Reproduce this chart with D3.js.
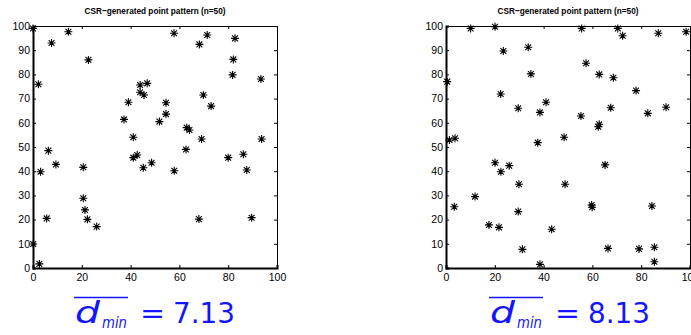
<!DOCTYPE html>
<html>
<head>
<meta charset="utf-8">
<script src="https://cdn.jsdelivr.net/npm/d3@7"></script>
<style>
  body { margin: 0; background: #fff; }
  svg { display: block; }
  .tick text { font-family: "Liberation Sans", Arial, sans-serif; font-size: 10.5px; fill: #000; }
</style>
</head>
<body>
<div id="chart"></div>
<script>
// point patterns (x, y in 0..100)
const leftX = [0, 7.6, 14.5, 22.7, 2.2, 39.1, 37.3, 41.1, 43.9, 43.9, 45.5, 46.8, 57.8, 71.4, 68.2, 82.8, 82.1, 81.8, 93.4, 69.8,
  73, 54.5, 54.5, 51.8, 63, 64.1, 69.1, 93.7, 62.7, 6.3, 3.1, 9.4, 20.6, 20.6, 21.3, 22.3, 26.1, 5.6, 0.1, 2.6,
  41.1, 42.7, 45.2, 48.6, 57.9, 80, 86.2, 87.6, 68, 89.6];
const leftY = [99, 93, 97.6, 86, 75.9, 68.5, 61.4, 54, 75.6, 72.6, 71.5, 76.3, 97, 96.3, 92.4, 94.9, 86.2, 79.8, 78.1, 71.5,
  66.9, 68.3, 63.6, 60.5, 58, 57, 53.3, 53.3, 49, 48.5, 39.8, 42.8, 41.6, 28.8, 24, 20.1, 17.1, 20.5, 9.9, 1.7,
  45.6, 46.7, 41.4, 43.5, 40.2, 45.6, 47, 40.5, 20.2, 20.8];

const rightX = [0.5, 1.4, 3.7, 10.1, 20.1, 23.5, 22.4, 29.6, 33.7, 34.8, 41, 38.5, 37.6, 48.4, 55.6, 70.4, 72.4, 87, 98.4, 57.4,
  62.8, 68.6, 77.9, 67.5, 55.3, 62.8, 62.4, 82.7, 90.2, 20.1, 22.5, 25.9, 29.9, 48.8, 3.4, 11.9, 29.6, 17.6, 21.7, 31.3,
  43.3, 38.5, 65.2, 59.7, 59.9, 84.4, 66.4, 79.1, 85.4, 85.4];
const rightY = [77, 52.9, 53.6, 99, 99.7, 89.7, 71.9, 66, 91.2, 80.2, 68.5, 64.3, 51.8, 54, 99, 99, 96, 97, 97.6, 84.6,
  80, 78.6, 73.3, 66.2, 62.8, 59.4, 58.4, 63.9, 66.4, 43.5, 39.8, 42.3, 34.6, 34.6, 25.3, 29.5, 23.3, 17.8, 16.8, 7.7,
  16, 1.5, 42.6, 26, 25.1, 25.6, 8.1, 7.9, 8.6, 2.6];

const xTicks = [0, 20, 40, 60, 80, 100];
const yTicks = [0, 10, 20, 30, 40, 50, 60, 70, 80, 90, 100];
const titles = ["CSR\u2212generated point pattern (n=50)", "CSR\u2212generated point pattern (n=50)"];
const dminValues = ["7.13", "8.13"];

const W = 691, H = 335;
const svg = d3.select("#chart").append("svg").attr("width", W).attr("height", H);

const panels = [
  { x0: 33, x1: 277, xs: leftX, ys: leftY, title: titles[0], dmin: dminValues[0], fx: 75 },
  { x0: 446, x1: 690, xs: rightX, ys: rightY, title: titles[1], dmin: dminValues[1], fx: 490 }
];
const yTop = 26, yBot = 268;

// MATLAB-ish '*' marker
const star = "M-4,0L4,0M0,-4L0,4M-2.9,-2.9L2.9,2.9M-2.9,2.9L2.9,-2.9";

panels.forEach(p => {
  const x = d3.scaleLinear().domain([0, 100]).range([p.x0, p.x1]);
  const y = d3.scaleLinear().domain([0, 100]).range([yBot, yTop]);
  const g = svg.append("g");

  // box ticks (inward)
  g.append("g").attr("transform", `translate(0,${yTop})`)
    .call(d3.axisTop(x).tickValues(xTicks).tickSize(-3).tickFormat(""))
    .call(a => a.select(".domain").attr("stroke-width", 1));
  g.append("g").attr("transform", `translate(${p.x1},0)`)
    .call(d3.axisRight(y).tickValues(yTicks).tickSize(-3).tickFormat(""))
    .call(a => a.select(".domain").attr("stroke-width", 1));
  g.append("g").attr("transform", `translate(0,${yBot})`)
    .call(d3.axisBottom(x).tickValues(xTicks).tickSize(-3).tickPadding(6))
    .call(a => a.select(".domain").attr("stroke-width", 2));
  g.append("g").attr("transform", `translate(${p.x0},0)`)
    .call(d3.axisLeft(y).tickValues(yTicks).tickSize(-3).tickPadding(3))
    .call(a => a.select(".domain").attr("stroke-width", 2));

  // points
  g.append("g").selectAll("path")
    .data(p.xs.map((v, i) => [v, p.ys[i]]))
    .join("path")
    .attr("transform", d => `translate(${x(d[0])},${y(d[1])})`)
    .attr("d", star)
    .attr("fill", "none")
    .attr("stroke", "#000")
    .attr("stroke-width", 1.1);

  // title
  g.append("text")
    .attr("x", (p.x0 + p.x1) / 2).attr("y", 14)
    .attr("text-anchor", "middle")
    .attr("font-family", "'Liberation Sans', Arial, sans-serif")
    .attr("font-weight", "bold").attr("font-size", 9.5)
    .attr("textLength", 141).attr("lengthAdjust", "spacingAndGlyphs")
    .text(p.title);

  // mean nearest-neighbour distance label
  const f = g.append("g").attr("fill", "#1414ff")
    .attr("font-family", "'DejaVu Sans', sans-serif");
  f.append("text").attr("x", p.fx).attr("y", 323)
    .attr("font-size", 31).attr("font-style", "italic")
    .attr("textLength", 25).attr("lengthAdjust", "spacingAndGlyphs")
    .text("d");
  f.append("text").attr("x", p.fx + 27).attr("y", 328)
    .attr("font-size", 16.5).attr("font-style", "italic")
    .attr("textLength", 25).attr("lengthAdjust", "spacingAndGlyphs")
    .text("min");
  f.append("line")
    .attr("x1", p.fx - 1).attr("x2", p.fx + 53)
    .attr("y1", 297.5).attr("y2", 297.5)
    .attr("stroke", "#1414ff").attr("stroke-width", 1.5);
  f.append("text").attr("x", p.fx + 65).attr("y", 323)
    .attr("font-size", 28)
    .attr("textLength", 25).attr("lengthAdjust", "spacingAndGlyphs")
    .text("=");
  f.append("text").attr("x", p.fx + 98).attr("y", 323)
    .attr("font-size", 28)
    .attr("textLength", 62).attr("lengthAdjust", "spacingAndGlyphs")
    .text(p.dmin);
});
</script>
</body>
</html>
